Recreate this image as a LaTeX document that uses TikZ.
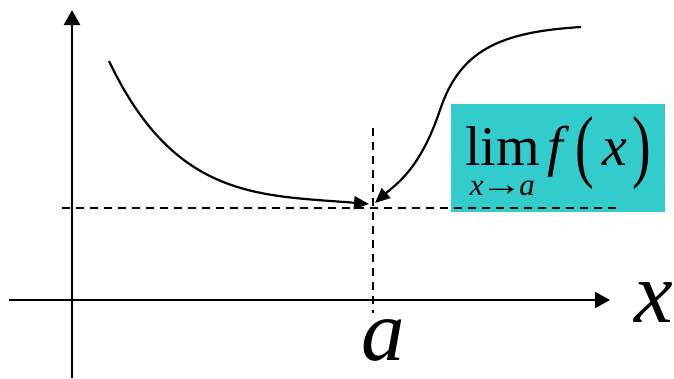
\documentclass[tikz,border=0pt]{standalone}
\usepackage{fontspec}
\setmainfont{Liberation Serif}
\usepackage{xcolor}
\usepackage{graphicx}
\usetikzlibrary{arrows.meta}
\definecolor{limcyan}{RGB}{51,204,204}
\newcommand{\tallparen}[1]{\raisebox{-7.5pt}{\scalebox{1}[1.44]{#1}}}

\begin{document}
\begin{tikzpicture}[
  x=1pt, y=-1pt,
  axisline/.style={line width=2.3pt, -{Triangle[length=15pt,width=16pt]}},
  fcurve/.style={line width=2.2pt, -{Triangle[length=15pt,width=13pt]}},
  guide/.style={line width=1.8pt, dash pattern=on 8pt off 6pt},
  limbox/.style={fill=limcyan, minimum width=214pt, minimum height=108pt,
                 inner sep=0pt, text height=61pt, text depth=47pt},
  axislabel/.style={font=\fontsize{87}{87}\selectfont\itshape, inner sep=0pt}
]
\useasboundingbox (0,0) rectangle (674,378);

\coordinate (ybot) at (72,378);
\coordinate (ytop) at (72,10);
\coordinate (xleft) at (9,300);
\coordinate (xright) at (610,300);
\coordinate (hleft) at (62,208);
\coordinate (hright) at (620,208);
\coordinate (vtop) at (373,128);
\coordinate (vbot) at (373,313);
\coordinate (lstart) at (109,61);
\coordinate (rstart) at (581,27);
\coordinate (rbend) at (440,110);
\coordinate (Pl) at (369,204);
\coordinate (Pr) at (375,203);

\node[limbox] (limit) at (558,158) {\fontsize{56}{56}\selectfont
  \begin{tabular}[t]{@{}c@{}}lim\\[-26pt]\fontsize{31}{31}\selectfont\textit{x}\kern-3pt\scalebox{1.35}[1.1]{→}\kern-3pt\textit{a}\end{tabular}%
  \hspace{8pt}\textit{f}\hspace{6pt}\tallparen{(}\hspace{8pt}\textit{x}\hspace{5pt}\tallparen{)}};
\node[axislabel, anchor=base] (alabel) at (383,360) {a};
\node[axislabel, anchor=base west] (xlabel) at (634,322) {x};

\draw[axisline] (ybot) -- (ytop);
\draw[axisline] (xleft) -- (xright);
\draw[guide] (hleft) -- (hright);
\draw[guide] (vtop) -- (vbot);
\draw[fcurve] (lstart) .. controls (175,200) and (260,195) .. (Pl);
\draw[fcurve] (rstart) .. controls (500,32) and (460,50) .. (rbend)
  .. controls (420,170) and (395,185) .. (Pr);
\end{tikzpicture}
\end{document}
